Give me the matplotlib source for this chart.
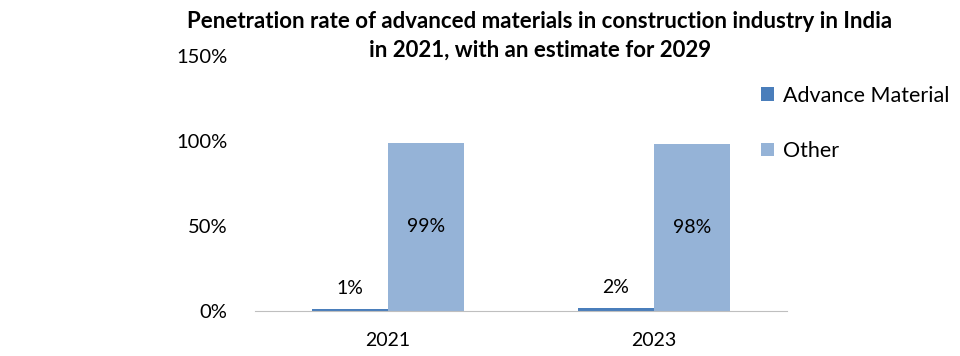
import matplotlib.pyplot as plt
import matplotlib.ticker as ticker
import numpy as np

years = ['2021', '2023']
advance = [1, 2]
other = [99, 98]
series_names = ['Advance Material', 'Other']
colors = ['#4A7EBB', '#95B3D7']
title_lines = ['Penetration rate of advanced materials in construction industry in India',
               'in 2021, with an estimate for 2029']

plt.rcParams['font.family'] = ['Lato', 'DejaVu Sans']

fig = plt.figure(figsize=(9.6, 3.56), dpi=100)
ax = fig.add_axes([0.2656, 0.1264, 0.5542, 0.7163])

x = np.arange(len(years))
w = 0.286
b1 = ax.bar(x - w / 2, advance, w, color=colors[0], label=series_names[0])
b2 = ax.bar(x + w / 2, other, w, color=colors[1], label=series_names[1])

# value labels
for rect, v in zip(b1, advance):
    ax.text(rect.get_x() + rect.get_width() / 2, v + 12, f'{v}%',
            ha='center', va='center', fontsize=14)
for rect, v in zip(b2, other):
    ax.text(rect.get_x() + rect.get_width() / 2, v / 2, f'{v}%',
            ha='center', va='center', fontsize=14)

ax.set_xlim(-0.5, 1.5)
ax.set_ylim(0, 150)
ax.set_yticks([0, 50, 100, 150])
ax.yaxis.set_major_formatter(ticker.FuncFormatter(lambda v, p: f'{v:.0f}%'))
ax.set_xticks(x)
ax.set_xticklabels(years)
ax.tick_params(axis='both', length=0)
ax.tick_params(axis='y', pad=20, labelsize=14.5)
ax.tick_params(axis='x', pad=15, labelsize=14)

for s in ['top', 'right', 'left']:
    ax.spines[s].set_visible(False)
ax.spines['bottom'].set_color('#BFBFBF')
ax.spines['bottom'].set_linestyle((0, (1, 1)))
ax.spines['bottom'].set_linewidth(0.8)

# title as two separate lines
fig.text(0.5625, 1 - 22 / 356, title_lines[0], ha='center', va='center',
         fontsize=16, fontweight='bold')
fig.text(0.5625, 1 - 50 / 356, title_lines[1], ha='center', va='center',
         fontsize=16, fontweight='bold')

ax.legend(loc='upper left', bbox_to_anchor=(0.915, 1.06, 0.2, -0.1),
          frameon=False, fontsize=15.5, handlelength=0.6, handleheight=0.6,
          handletextpad=0.4, labelspacing=1.65)

fig.savefig('out.png', dpi=100)
